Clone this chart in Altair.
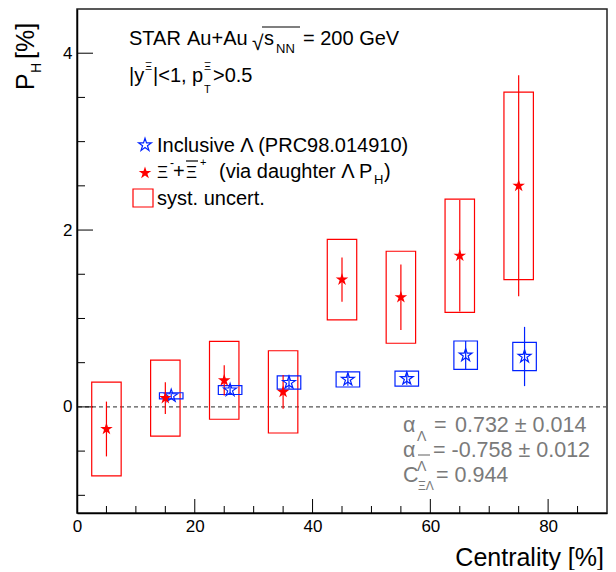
import altair as alt
import pandas as pd

# ---------------- data ----------------
xi_cent = [5, 15, 25, 35, 45, 55, 65, 75]
xi_ph = [-0.25, 0.10, 0.30, 0.17, 1.44, 1.24, 1.71, 2.50]
xi_stat = [0.31, 0.18, 0.17, 0.19, 0.25, 0.37, 0.63, 1.25]
xi_syst = [0.53, 0.43, 0.44, 0.465, 0.455, 0.52, 0.64, 1.06]

lam_cent = [16, 26, 36, 46, 56, 66, 76]
lam_ph = [0.125, 0.19, 0.275, 0.31, 0.32, 0.585, 0.57]
lam_stat = [0.03, 0.05, 0.07, 0.07, 0.07, 0.16, 0.335]
lam_syst = [0.035, 0.05, 0.075, 0.085, 0.085, 0.16, 0.16]

x_labels = [0, 20, 40, 60, 80]
x_major = [20, 40, 60, 80]
x_minor = [5, 10, 15, 25, 30, 35, 45, 50, 55, 65, 70, 75, 85]
y_labels = [0, 2, 4]
y_minor = [-1.0, -0.5, 0.5, 1.0, 1.5, 2.5, 3.0, 3.5]
zero_line = [0]

# ---------------- layout ----------------
W, H = 530, 504
PL, PT, PR, PB = 69, 1, 1, 57
OX, OY = 8 + PL, 8 + PT
FONT = "Liberation Sans"
RED = "#ff0000"
BLUE = "#0022ff"
GREY = "#7a7a7a"
STAR = ("M0,-1L0.2245,-0.309L0.951,-0.309L0.363,0.118L0.588,0.809L0,0.382"
        "L-0.588,0.809L-0.363,0.118L-0.951,-0.309L-0.2245,-0.309Z")

xs = alt.Scale(domain=[0, 90], nice=False, zero=False)
ys = alt.Scale(domain=[-1.2, 4.5], nice=False, zero=False)
xaxis = alt.Axis(values=x_labels, ticks=False, tickSize=0, grid=False, title=None, orient="bottom",
                 labelFont=FONT, labelFontSize=17, labelColor="black", labelPadding=5,
                 domainColor="black", domainWidth=1.5, labelFlush=False)
yaxis = alt.Axis(values=y_labels, ticks=False, tickSize=0, grid=False, title=None, orient="left",
                 labelFont=FONT, labelFontSize=17, labelColor="black", labelPadding=5,
                 domainColor="black", domainWidth=1.5)


def X(f):
    return alt.X(f, type="quantitative", scale=xs, axis=xaxis)


def Y(f):
    return alt.Y(f, type="quantitative", scale=ys, axis=yaxis)


one = pd.DataFrame({"a": [0]})


def txt(s, px, py, size, color="black", align="left", angle=0):
    return alt.Chart(one).mark_text(
        text=s, font=FONT, fontSize=size, color=color, align=align,
        baseline="alphabetic", angle=angle
    ).encode(x=alt.value(px - OX), y=alt.value(py - OY))


def hline(px1, px2, py, color="black", w=1.0):
    return alt.Chart(one).mark_rule(color=color, strokeWidth=w).encode(
        x=alt.value(px1 - OX), x2=alt.value(px2 - OX), y=alt.value(py - OY))


xi_df = pd.DataFrame({"c": xi_cent, "p": xi_ph, "st": xi_stat, "sy": xi_syst})
lam_df = pd.DataFrame({"c": lam_cent, "p": lam_ph, "st": lam_stat, "sy": lam_syst})

layers = []

# zero dashed line
layers.append(alt.Chart(pd.DataFrame({"z": zero_line})).mark_rule(
    color="#555555", strokeDash=[4, 3], strokeWidth=1.2).encode(y=Y("z")))

# inward ticks
layers.append(alt.Chart(pd.DataFrame({"v": x_major})).mark_rule(color="black", strokeWidth=1).encode(
    x=X("v"), y=alt.value(H), y2=alt.value(H - 14)))
layers.append(alt.Chart(pd.DataFrame({"v": x_minor})).mark_rule(color="black", strokeWidth=1).encode(
    x=X("v"), y=alt.value(H), y2=alt.value(H - 7)))
layers.append(alt.Chart(pd.DataFrame({"v": y_labels})).mark_rule(color="black", strokeWidth=1).encode(
    y=Y("v"), x=alt.value(0), x2=alt.value(16)))
layers.append(alt.Chart(pd.DataFrame({"v": y_minor})).mark_rule(color="black", strokeWidth=1).encode(
    y=Y("v"), x=alt.value(0), x2=alt.value(8)))

# systematic boxes
layers.append(alt.Chart(xi_df).transform_calculate(
    x0="datum.c - 2.5", x1="datum.c + 2.5", y0="datum.p - datum.sy", y1="datum.p + datum.sy"
).mark_rect(fillOpacity=0, stroke=RED, strokeWidth=1.2).encode(
    x=X("x0:Q"), x2="x1:Q", y=Y("y0:Q"), y2="y1:Q"))
layers.append(alt.Chart(lam_df).transform_calculate(
    x0="datum.c - 2", x1="datum.c + 2", y0="datum.p - datum.sy", y1="datum.p + datum.sy"
).mark_rect(fillOpacity=0, stroke=BLUE, strokeWidth=1.2).encode(
    x=X("x0:Q"), x2="x1:Q", y=Y("y0:Q"), y2="y1:Q"))

# statistical error bars
layers.append(alt.Chart(xi_df).transform_calculate(
    lo="datum.p - datum.st", hi="datum.p + datum.st"
).mark_rule(color=RED, strokeWidth=1.2).encode(x=X("c:Q"), y=Y("lo:Q"), y2="hi:Q"))
layers.append(alt.Chart(lam_df).transform_calculate(
    lo="datum.p - datum.st", hi="datum.p + datum.st"
).mark_rule(color=BLUE, strokeWidth=1.2).encode(x=X("c:Q"), y=Y("lo:Q"), y2="hi:Q"))

# markers
layers.append(alt.Chart(lam_df).mark_point(shape=STAR, filled=False, size=180, color=BLUE,
                                           strokeWidth=1.2, opacity=1).encode(x=X("c:Q"), y=Y("p:Q")))
layers.append(alt.Chart(xi_df).mark_point(shape=STAR, filled=True, size=175, color=RED,
                                          opacity=1).encode(x=X("c:Q"), y=Y("p:Q")))

# ---------------- header text ----------------
S = 20
layers += [
    txt("STAR", 129, 45, S),
    txt("Au+Au", 187, 45, S),
    txt("√", 252, 50, 21),
    hline(262, 300, 27, "black", 1.2),
    txt("s", 264, 45, S),
    txt("NN", 276, 53, 13),
    txt("= 200 GeV", 303, 45, S),
    txt("|y", 129, 82, S),
    txt("Ξ", 145, 70, 11),
    txt("|<1, p", 153, 82, S),
    txt("Ξ", 204, 70, 11),
    txt("T", 204, 93, 11),
    txt(">0.5", 213, 82, S),
]

# ---------------- legend ----------------
layers += [
    alt.Chart(one).mark_point(shape=STAR, filled=False, size=180, color=BLUE, strokeWidth=1.2,
                              opacity=1).encode(x=alt.value(145 - OX), y=alt.value(145 - OY)),
    txt("Inclusive Λ (PRC98.014910)", 157, 152, S),
    alt.Chart(one).mark_point(shape=STAR, filled=True, size=175, color=RED,
                              opacity=1).encode(x=alt.value(145 - OX), y=alt.value(173 - OY)),
    txt("Ξ", 157, 178, 17),
    txt("-", 170, 167, 12),
    txt("+", 173, 178, S),
    txt("Ξ", 186, 178, 17),
    hline(186, 198, 161, "black", 1.2),
    txt("+", 200, 166, 11),
    txt("(via daughter Λ P", 219, 178, S),
    txt("H", 374, 184, 13),
    txt(")", 384, 178, S),
    alt.Chart(one).mark_rect(fillOpacity=0, stroke=RED, strokeWidth=1.2).encode(
        x=alt.value(133 - OX), x2=alt.value(153 - OX), y=alt.value(189 - OY), y2=alt.value(207 - OY)),
    txt("syst. uncert.", 157, 205, S),
]

# ---------------- constants (bottom right) ----------------
G = 21.5
layers += [
    txt("α", 403, 432, G, GREY),
    txt("Λ", 417, 441, 14, GREY),
    txt("=", 434, 432, G, GREY),
    txt("0.732 ± 0.014", 455, 432, G, GREY),
    txt("α", 403, 457, G, GREY),
    hline(418, 430, 455, GREY, 1.2),
    txt("Λ", 417, 471, 14, GREY),
    txt("= -0.758 ± 0.012", 433, 457, G, GREY),
    txt("C", 403, 482, G, GREY),
    txt("ΞΛ", 418, 490, 12, GREY),
    txt("= 0.944", 436, 482, G, GREY),
]

# ---------------- axis titles ----------------
layers += [
    txt("Centrality [%]", 604, 566, 25, "black", "right"),
    txt("P", 34, 90, 25, "black", "left", 270),
    txt("H", 41, 73, 14, "black", "left", 270),
    txt("[%]", 34, 59, 25, "black", "left", 270),
]

chart = alt.layer(*layers).properties(
    width=W, height=H,
    padding={"left": PL, "top": PT, "right": PR, "bottom": PB},
    autosize=alt.AutoSizeParams(type="none"),
    background="white",
).configure_view(stroke="#222222", strokeWidth=1.5)

chart.save("out.html", embed_options={"renderer": "svg", "actions": False})
